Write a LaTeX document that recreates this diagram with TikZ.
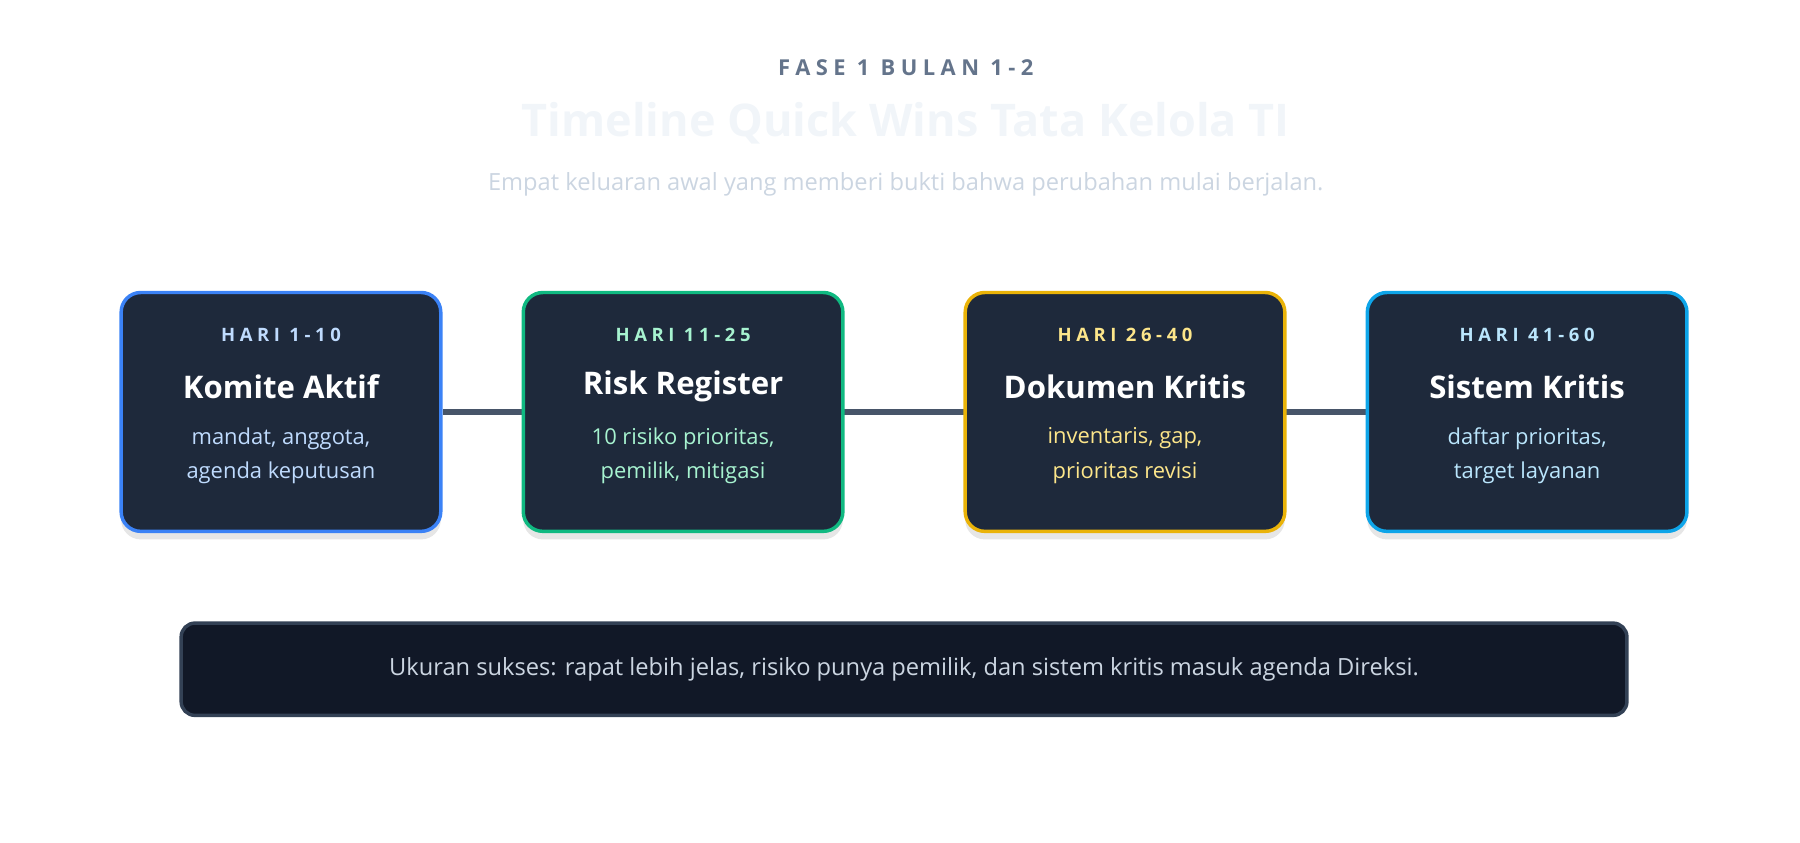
\documentclass[tikz,border=0pt]{standalone}
\usepackage{fontspec}
\setmainfont{Open Sans}
\usetikzlibrary{shadows}
\definecolor{cardfill}{HTML}{1E293B}
\definecolor{linegray}{HTML}{475569}
\definecolor{kicker}{HTML}{64748B}
\definecolor{faint}{HTML}{F1F5F9}
\definecolor{subtle}{HTML}{CBD5E1}
\definecolor{cblue}{HTML}{3B82F6}
\definecolor{cgreen}{HTML}{10B981}
\definecolor{cyellow}{HTML}{EAB308}
\definecolor{csky}{HTML}{0EA5E9}
\definecolor{tblue}{HTML}{BFDBFE}
\definecolor{tgreen}{HTML}{A7F3D0}
\definecolor{tyellow}{HTML}{FDE68A}
\definecolor{tsky}{HTML}{BAE6FD}
\definecolor{footfill}{HTML}{111827}
\definecolor{footline}{HTML}{334155}
\newcommand{\spaced}[1]{{\addfontfeature{LetterSpace=25}#1}}
\begin{document}
\begin{tikzpicture}
    [x=1pt,y=-1pt,
     card/.style={draw,line width=3pt,fill=cardfill,rounded corners=17pt,
       minimum width=277pt,minimum height=207pt,
       drop shadow={shadow xshift=0pt,shadow yshift=-7pt,opacity=0.2}},
     day/.style={font=\fontsize{16}{18}\selectfont\bfseries},
     head/.style={font=\fontsize{27}{30}\selectfont\bfseries,text=white},
     body/.style={font=\fontsize{19}{30}\selectfont,align=center}]

    \useasboundingbox (0,0) rectangle (1560,730);

    % heading:
    \node (kick) at (785,59) [text=kicker,font=\fontsize{19}{22}\selectfont\bfseries] {\spaced{FASE 1 BULAN 1-2}};
    \node (title) at (785,107) [text=faint,font=\fontsize{39}{44}\selectfont\bfseries] {Timeline Quick Wins Tata Kelola TI};
    \node (sub) at (785,160) [text=subtle,font=\fontsize{20.5}{22}\selectfont] {Empat keluaran awal yang memberi bukti bahwa perubahan mulai berjalan.};

    % connector line:
    \coordinate (lineL) at (384,357);
    \coordinate (lineR) at (1184,357);
    \draw [linegray,line width=5pt] (lineL) -- (lineR);

    % cards:
    \node (c1) at (243.5,357) [card,draw=cblue] {};
    \node (c2) at (592,357) [card,draw=cgreen] {};
    \node (c3) at (975,357) [card,draw=cyellow] {};
    \node (c4) at (1323.5,357) [card,draw=csky] {};

    % card texts:
    \node (d1) at (243.5,290) [day,text=tblue] {\spaced{HARI 1-10}};
    \node (h1) at (243.5,335) [head] {Komite Aktif};
    \node (b1) at (243.5,395) [body,text=tblue] {mandat, anggota,\\agenda keputusan};

    \node (d2) at (592,290) [day,text=tgreen] {\spaced{HARI 11-25}};
    \node (h2) at (592,335) [head] {Risk Register};
    \node (b2) at (592,395) [body,text=tgreen] {10 risiko prioritas,\\pemilik, mitigasi};

    \node (d3) at (975,290) [day,text=tyellow] {\spaced{HARI 26-40}};
    \node (h3) at (975,335) [head] {Dokumen Kritis};
    \node (b3) at (975,395) [body,text=tyellow] {inventaris, gap,\\prioritas revisi};

    \node (d4) at (1323.5,290) [day,text=tsky] {\spaced{HARI 41-60}};
    \node (h4) at (1323.5,335) [head] {Sistem Kritis};
    \node (b4) at (1323.5,395) [body,text=tsky] {daftar prioritas,\\target layanan};

    % footer:
    \node (foot) at (783.5,580) [draw=footline,line width=3pt,fill=footfill,rounded corners=12pt,
      minimum width=1253pt,minimum height=80pt,text=subtle,font=\fontsize{20.5}{22}\selectfont]
      {Ukuran sukses: rapat lebih jelas, risiko punya pemilik, dan sistem kritis masuk agenda Direksi.};

  \end{tikzpicture}
\end{document}
